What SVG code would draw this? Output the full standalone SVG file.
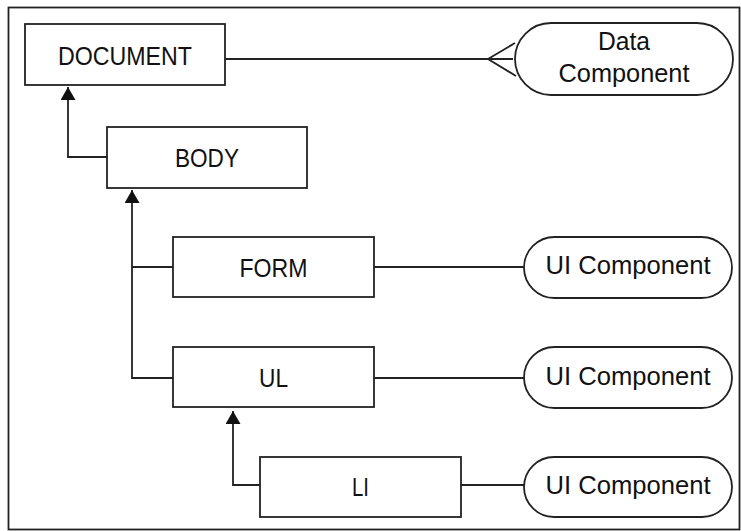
<svg xmlns="http://www.w3.org/2000/svg" width="741" height="531" viewBox="0 0 741 531">
<style>
.box{fill:#fff;stroke:#222;stroke-width:1.8}
.pill{fill:#fff;stroke:#222;stroke-width:1.8}
.ln{fill:none;stroke:#222;stroke-width:1.8}
text{font-family:"Liberation Sans",Arial,sans-serif;font-size:25px;fill:#111;text-anchor:middle}
</style>
<defs>
<marker id="arr" markerUnits="userSpaceOnUse" markerWidth="14" markerHeight="15" refX="13" refY="7.5" orient="auto">
<path d="M0,0 L13,7.5 L0,15 z" fill="#111"/>
</marker>
</defs>
<rect x="8.5" y="7.5" width="731" height="522" fill="#fff" stroke="#222" stroke-width="1.8"/>
<g id="connectors">
<path class="ln" d="M225,59 H513"/>
<path class="ln" d="M515,43 L488,59 L516,76"/>
<path class="ln" d="M107,157 H68 V87" marker-end="url(#arr)"/>
<path class="ln" d="M173,378 H132 V190" marker-end="url(#arr)"/>
<path class="ln" d="M173,267 H132"/>
<path class="ln" d="M260,485 H233 V411" marker-end="url(#arr)"/>
<path class="ln" d="M374,267 H524"/>
<path class="ln" d="M374,378 H524"/>
<path class="ln" d="M461,485 H524"/>
</g>
<g id="document"><rect class="box" x="25" y="24" width="200" height="61"/><text x="125" y="65" textLength="134" lengthAdjust="spacingAndGlyphs">DOCUMENT</text></g>
<g id="body"><rect class="box" x="107" y="127" width="200" height="61"/><text x="207" y="167" textLength="64" lengthAdjust="spacingAndGlyphs">BODY</text></g>
<g id="form"><rect class="box" x="173" y="237" width="201" height="60"/><text x="273.5" y="277" textLength="68" lengthAdjust="spacingAndGlyphs">FORM</text></g>
<g id="ul"><rect class="box" x="173" y="347" width="201" height="60"/><text x="273.5" y="387" textLength="29" lengthAdjust="spacingAndGlyphs">UL</text></g>
<g id="li"><rect class="box" x="260" y="457" width="201" height="60"/><text x="360.5" y="496" textLength="17" lengthAdjust="spacingAndGlyphs">LI</text></g>
<g id="data-component"><rect class="pill" x="515" y="23" width="218" height="72" rx="36" ry="36"/><text x="624" y="50" textLength="52" lengthAdjust="spacingAndGlyphs">Data</text><text x="624" y="82" textLength="131" lengthAdjust="spacingAndGlyphs">Component</text></g>
<g id="ui-component-1"><rect class="pill" x="524" y="237" width="208" height="61" rx="30.5" ry="30.5"/><text x="628" y="274" textLength="165" lengthAdjust="spacingAndGlyphs">UI Component</text></g>
<g id="ui-component-2"><rect class="pill" x="524" y="347" width="208" height="61" rx="30.5" ry="30.5"/><text x="628" y="385" textLength="165" lengthAdjust="spacingAndGlyphs">UI Component</text></g>
<g id="ui-component-3"><rect class="pill" x="524" y="457" width="208" height="60" rx="30" ry="30"/><text x="628" y="494" textLength="165" lengthAdjust="spacingAndGlyphs">UI Component</text></g>
</svg>
